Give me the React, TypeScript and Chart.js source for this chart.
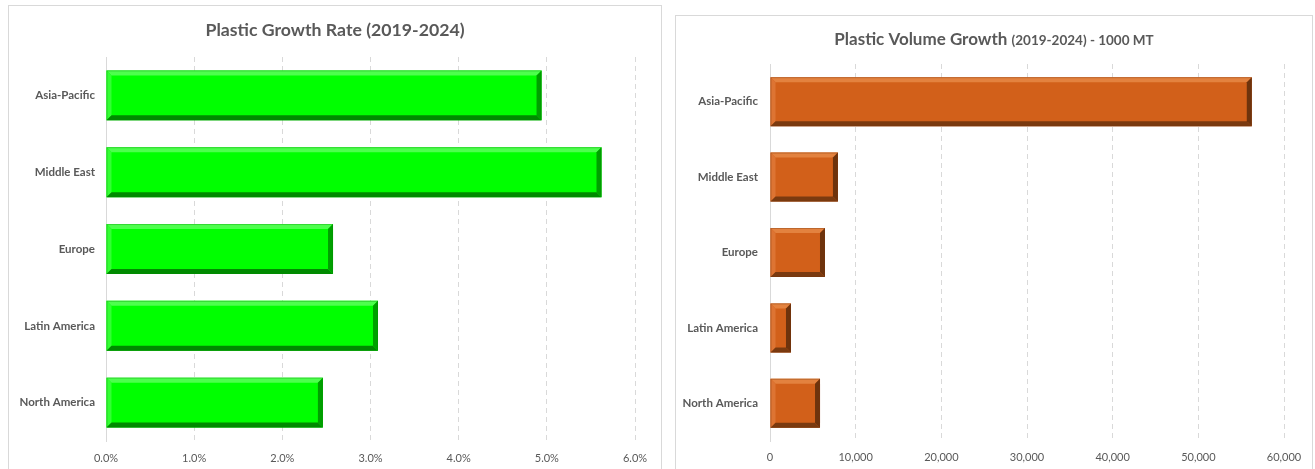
import React, { useEffect, useRef } from "react";
import { Chart, registerables } from "chart.js";

Chart.register(...registerables);

const categories = ["Asia-Pacific", "Middle East", "Europe", "Latin America", "North America"];
const growthRate = [4.94, 5.62, 2.575, 3.085, 2.46];
const volumeGrowth = [56240, 7930, 6420, 2450, 5840];
const rateTickMax = 6;
const rateTickStep = 1;
const volumeTickMax = 60000;
const volumeTickStep = 10000;

const FONT = "Lato, 'Open Sans', sans-serif";
const TEXT = "#595959";
const GRID = "#d9d9d9";

function poly(ctx: CanvasRenderingContext2D, pts: number[][], color: string) {
  ctx.beginPath();
  ctx.moveTo(pts[0][0], pts[0][1]);
  for (let i = 1; i < pts.length; i++) ctx.lineTo(pts[i][0], pts[i][1]);
  ctx.closePath();
  ctx.fillStyle = color;
  ctx.fill();
}

const bevelPlugin = {
  id: "bevel",
  afterDatasetsDraw(chart: any, _args: any, opts: any) {
    const ctx = chart.ctx as CanvasRenderingContext2D;
    const meta = chart.getDatasetMeta(0);
    const b0 = opts.size ?? 5;
    ctx.save();
    meta.data.forEach((el: any) => {
      const { x, y, base, height } = el.getProps(["x", "y", "base", "height"], true);
      const l = Math.min(x, base);
      const r = Math.max(x, base);
      const t = y - height / 2;
      const btm = y + height / 2;
      const b = Math.min(b0, (r - l) / 2);
      poly(ctx, [[l, t], [r, t], [r - b, t + b], [l + b, t + b]], opts.top);
      poly(ctx, [[l, t], [l + b, t + b], [l + b, btm - b], [l, btm]], opts.left);
      poly(ctx, [[l, btm], [l + b, btm - b], [r - b, btm - b], [r, btm]], opts.bottom);
      poly(ctx, [[r, t], [r, btm], [r - b, btm - b], [r - b, t + b]], opts.right);
      ctx.strokeStyle = opts.outline;
      ctx.lineWidth = 1;
      ctx.strokeRect(l + 0.5, t + 0.5, r - l - 1, btm - t - 1);
    });
    ctx.restore();
  },
};

const titlePlugin = {
  id: "mixedTitle",
  afterDraw(chart: any, _args: any, opts: any) {
    const ctx = chart.ctx as CanvasRenderingContext2D;
    const parts = opts.parts as { text: string; size: number; weight: string }[];
    ctx.save();
    ctx.textBaseline = "alphabetic";
    ctx.textAlign = "left";
    let total = 0;
    const widths = parts.map((p) => {
      ctx.font = `${p.weight} ${p.size}px ${FONT}`;
      const w = ctx.measureText(p.text).width;
      total += w;
      return w;
    });
    let x = (opts.centerX ?? chart.width / 2) - total / 2;
    parts.forEach((p, i) => {
      ctx.font = `${p.weight} ${p.size}px ${FONT}`;
      ctx.fillStyle = TEXT;
      ctx.fillText(p.text, x, opts.baseline);
      x += widths[i];
    });
    ctx.restore();
  },
};

type Cfg = {
  values: number[];
  max: number;
  step: number;
  fmt: (v: number) => string;
  color: string;
  bevel: any;
  title: any;
  yWidth: number;
  yPad: number;
  xPad: number;
  padTop: number;
  padRight: number;
  width: number;
  axisH: number;
};

function Panel({ cfg, canvasH }: { cfg: Cfg; canvasH: number }) {
  const ref = useRef<HTMLCanvasElement | null>(null);
  useEffect(() => {
    if (!ref.current) return;
    const chart = new Chart(ref.current, {
      type: "bar",
      data: {
        labels: categories,
        datasets: [
          {
            data: cfg.values,
            backgroundColor: cfg.color,
            borderWidth: 0,
            categoryPercentage: 1,
            barPercentage: 0.65,
          },
        ],
      },
      plugins: [bevelPlugin, titlePlugin],
      options: {
        indexAxis: "y",
        animation: false,
        responsive: false,
        devicePixelRatio: 1,
        layout: { padding: { top: cfg.padTop, right: cfg.padRight, left: 0, bottom: 0 } },
        plugins: {
          legend: { display: false },
          tooltip: { enabled: false },
          title: { display: false },
          bevel: cfg.bevel,
          mixedTitle: cfg.title,
        } as any,
        scales: {
          x: {
            min: 0,
            max: cfg.max,
            afterFit: (s: any) => {
              s.height = cfg.axisH;
            },
            ticks: {
              stepSize: cfg.step,
              padding: cfg.xPad,
              color: TEXT,
              font: { family: FONT, size: 11 },
              callback: (v: any) => cfg.fmt(Number(v)),
            },
            grid: {
              color: GRID,
              lineWidth: 1,
              drawTicks: false,
            },
            border: { display: false, dash: [5, 4] },
          },
          y: {
            afterFit: (s: any) => {
              s.width = cfg.yWidth;
            },
            ticks: {
              padding: cfg.yPad,
              color: TEXT,
              font: { family: FONT, size: 11.5, weight: "bold" },
            },
            grid: { display: false, drawTicks: false },
            border: { display: true, color: GRID, width: 1 },
          },
        },
      } as any,
    });
    return () => chart.destroy();
  }, []);
  return <canvas ref={ref} width={cfg.width} height={canvasH} style={{ display: "block" }} />;
}

const leftCfg: Cfg = {
  values: growthRate,
  max: rateTickMax,
  step: rateTickStep,
  fmt: (v) => v.toFixed(1) + "%",
  color: "#00ff00",
  bevel: { size: 5, top: "#4dff4d", left: "#33ff33", bottom: "#008a00", right: "#00a000", outline: "rgba(0,140,0,0.35)" },
  title: { baseline: 30, parts: [{ text: "Plastic Growth Rate (2019-2024)", size: 17.7, weight: "bold" }] },
  yWidth: 97,
  yPad: 11,
  xPad: 11,
  padTop: 51,
  padRight: 26,
  width: 652,
  axisH: 28,
};

const rightCfg: Cfg = {
  values: volumeGrowth,
  max: volumeTickMax,
  step: volumeTickStep,
  fmt: (v) => v.toLocaleString("en-US"),
  color: "#d2601a",
  bevel: { size: 5, top: "#e3823f", left: "#dd7433", bottom: "#7a3a10", right: "#6e330d", outline: "rgba(120,55,15,0.35)" },
  title: {
    baseline: 29,
    parts: [
      { text: "Plastic Volume Growth ", size: 17, weight: "bold" },
      { text: "(2019-2024) - 1000 MT", size: 13.5, weight: "bold" },
    ],
  },
  yWidth: 94,
  yPad: 12,
  xPad: 10,
  padTop: 48,
  padRight: 28,
  width: 636,
  axisH: 28,
};

export default function App() {
  return (
    <div style={{ position: "fixed", left: 0, top: 0, width: 1315, height: 469, overflow: "hidden", background: "#fff" }}>
      <div
        style={{
          position: "absolute",
          left: 8,
          top: 5,
          width: 654,
          height: 480,
          boxSizing: "border-box",
          border: "1px solid #d9d9d9",
        }}
      >
        <Panel cfg={leftCfg} canvasH={463} />
      </div>
      <div
        style={{
          position: "absolute",
          left: 675,
          top: 15,
          width: 638,
          height: 480,
          boxSizing: "border-box",
          border: "1px solid #d9d9d9",
        }}
      >
        <Panel cfg={rightCfg} canvasH={453} />
      </div>
    </div>
  );
}
